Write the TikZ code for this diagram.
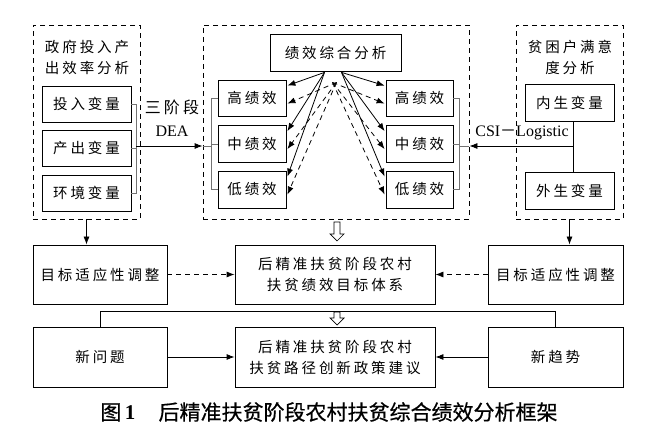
\documentclass[tikz,border=0pt]{standalone}
\usepackage{fontspec}
\setmainfont{Liberation Serif}
\newfontfamily\cjk[LetterSpace=20]{Noto Sans CJK SC}
\newfontfamily\cjkhei[FakeBold=0.6]{Noto Sans CJK SC}
\usetikzlibrary{arrows.meta,positioning,calc}

% hollow downward arrow: top point, shaft length
\newcommand{\hdarrow}[2]{\draw[line width=0.7bp, fill=white] ($(#1)+(-3,0)$) -- ++(0,#2) -- ++(-4,0) -- ++(7,7) -- ++(7,-7) -- ++(-4,0) -- ++(0,-#2) -- cycle;}

\begin{document}
\begin{tikzpicture}[x=1bp, y=-1bp,
  box/.style={draw, line width=0.8bp, inner sep=0pt, align=center, font=\cjk\fontsize{14.5bp}{21bp}\selectfont},
  frame/.style={draw, dash pattern=on 5bp off 4bp, line width=0.8bp, inner sep=0pt, minimum height=194bp},
  ttl/.style={align=center, inner sep=0pt, font=\cjk\fontsize{14.5bp}{21bp}\selectfont},
  lbl/.style={align=center, inner sep=0pt, font=\fontsize{16bp}{23bp}\selectfont},
  arr/.style={-{Latex[length=8bp,width=6bp]}, line width=0.8bp},
  darr/.style={arr, dash pattern=on 5bp off 4bp},
  brk/.style={draw=black!55, line width=0.8bp}
]
\useasboundingbox (0,0) rectangle (660,442);

% three analysis blocks
\node[frame, minimum width=107bp] (gov) at (86.5,122) {};
\node[ttl] (govt) at (87,57.5) {政府投入产\\出效率分析};
\node[box, minimum width=89bp, minimum height=36bp] (inp) at (86.5,104) {投入变量};
\node[box, minimum width=89bp, minimum height=36bp] (outp) at (86.5,148) {产出变量};
\node[box, minimum width=89bp, minimum height=36bp] (envv) at (86.5,193) {环境变量};

\node[frame, minimum width=266bp] (perf) at (336,122) {};
\node[box, minimum width=131bp, minimum height=37bp] (zh) at (335.5,52.5) {绩效综合分析};
\node[box, minimum width=68bp, minimum height=36bp] (hiL) at (252,98) {高绩效};
\node[box, minimum width=68bp, minimum height=37bp] (midL) at (252,144) {中绩效};
\node[box, minimum width=68bp, minimum height=37bp] (loL) at (252,189.5) {低绩效};
\node[box, minimum width=67bp, minimum height=36bp] (hiR) at (419.5,98) {高绩效};
\node[box, minimum width=67bp, minimum height=37bp] (midR) at (419.5,144) {中绩效};
\node[box, minimum width=67bp, minimum height=37bp] (loR) at (419.5,189.5) {低绩效};

\node[frame, minimum width=107bp] (sat) at (569.5,122) {};
\node[ttl] (satt) at (570,57.5) {贫困户满意\\度分析};
\node[box, minimum width=89bp, minimum height=37bp] (endo) at (569.5,102.5) {内生变量};
\node[box, minimum width=89bp, minimum height=37bp] (exo) at (569.5,190.5) {外生变量};

% lower rows
\node[box, minimum width=134bp, minimum height=59bp] (tgtL) at (100,274.5) {目标适应性调整};
\node[box, minimum width=200bp, minimum height=59bp] (sys) at (335,274.5) {后精准扶贫阶段农村\\扶贫绩效目标体系};
\node[box, minimum width=135bp, minimum height=59bp] (tgtR) at (555.5,274.5) {目标适应性调整};
\node[box, minimum width=134bp, minimum height=60bp] (newp) at (100,357) {新问题};
\node[box, minimum width=200bp, minimum height=60bp] (pol) at (335,357) {后精准扶贫阶段农村\\扶贫路径创新政策建议};
\node[box, minimum width=135bp, minimum height=60bp] (newt) at (555.5,357) {新趋势};

\node[inner sep=0pt, font=\cjkhei\fontsize{21bp}{24bp}\selectfont] (cap) at (329,412)
  {图\,{\rmfamily\bfseries 1}\hspace{1.1em}后精准扶贫阶段农村扶贫综合绩效分析框架};

% brackets
\draw[brk] (inp.east) -- ++(5,0) |- (envv.east);
\draw[brk] (outp.east) -- ++(5,0);
\draw[brk] (hiL.west) -- ++(-6,0) |- (loL.west);
\draw[brk] (midL.west) -- ++(-6,0);
\draw[brk] (hiR.east) -- ++(6,0) |- (loR.east);
\draw[brk] (midR.east) -- ++(6,0);
\coordinate (bL) at ($(midL.west)+(-6,0)$);
\coordinate (bR) at ($(midR.east)+(6,0)$);
\coordinate (jL) at ($(outp.east)+(5,-2)$);
\coordinate (jR) at ($(endo.south)+(4,0)$);

% inputs into the middle block
\draw[arr] (jL) -- (jL -| perf.west);
\draw[brk] (jL -| perf.west) -- (jL -| bL);
\node[lbl] (dea) at (172,118.5) {{\cjk 三阶段}\\DEA};

\draw[line width=0.8bp] (jR) -- (jR |- exo.north);
\draw[arr] (jR |- jL) -- (jL -| perf.east);
\draw[brk] (jL -| perf.east) -- (jL -| bR);
\node[lbl] (csi) at (522,133) {CSI{\cjk －}Logistic};

% fan from the synthesis box
\coordinate (fsL) at ($(zh.south)+(-11,1)$);
\coordinate (fsR) at ($(zh.south)+(6,1)$);
\coordinate (fdL) at ($(zh.south)+(1,11)$);
\coordinate (fdR) at ($(zh.south)+(-3,11)$);
\foreach \b in {hiL,midL,loL} {
  \draw[arr] (fsL) -- ($(\b.north east)+(1,6)$);
  \draw[darr] (fdL) -- ($(\b.north east)+(1,24)$);
}
\foreach \b in {hiR,midR,loR} {
  \draw[arr] (fsR) -- ($(\b.north west)+(-1,6)$);
  \draw[darr] (fdR) -- ($(\b.north west)+(-1,24)$);
}

% down to the target rows
\draw[arr] (gov.south) -- (gov.south |- tgtL.north);
\draw[arr] (sat.south) -- (sat.south |- tgtR.north);
\hdarrow{337,222}{12}
\draw[darr] (tgtL) -- (sys);
\draw[darr] (tgtR) -- (sys);
\draw[line width=0.8bp] (newp.north) -- ++(0,-15) -| (newt.north);
\hdarrow{337,312}{6}
\draw[arr] (newp) -- (pol);
\draw[arr] (newt) -- (pol);
\end{tikzpicture}
\end{document}
